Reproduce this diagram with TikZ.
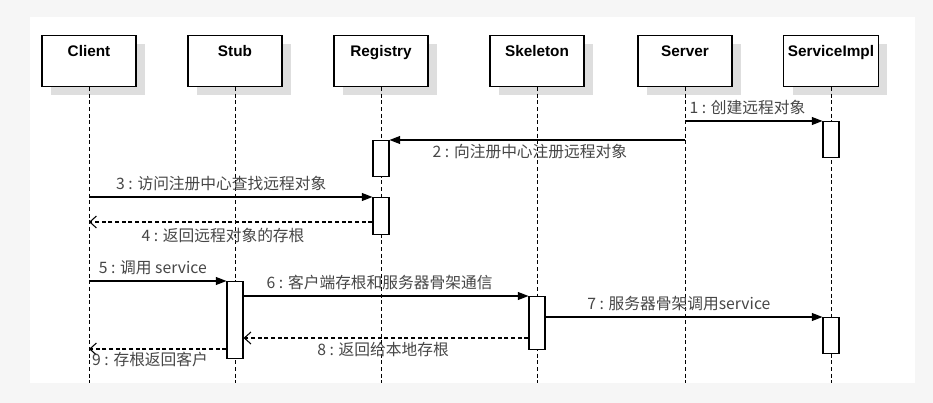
\documentclass[tikz,border=0pt]{standalone}
\usepackage{fontspec}
\setmainfont{Liberation Sans}
\newfontfamily\cjk{Noto Sans CJK SC}
\usetikzlibrary{arrows.meta}
\definecolor{shade}{RGB}{222,222,222}
\definecolor{backdrop}{RGB}{246,246,246}
\definecolor{labelgray}{RGB}{70,70,70}
\tikzset{
  head/.style={draw=black, thick, fill=white, minimum width=70.5pt, minimum height=38.25pt,
               font=\bfseries\fontsize{11.5}{13}\selectfont, anchor=north, align=center, text depth=15pt},
  shadow/.style={fill=shade, minimum width=70.5pt, minimum height=38.25pt, anchor=north},
  life/.style={densely dashed, thin},
  act/.style={draw=black, thick, fill=white, minimum width=12pt, inner sep=0pt, anchor=north},
  call/.style={thick, -{Triangle[length=8pt,width=6pt]}},
  reply/.style={thick, densely dashed, -{Straight Barb[length=5pt,width=9pt]}},
  msg/.style={font=\cjk\fontsize{11.8}{13}\selectfont, text=labelgray, inner sep=1pt}
}
\begin{document}
\begin{tikzpicture}[x=0.75pt, y=-0.75pt]
  \fill[backdrop] (0,0) rectangle (933,403);
  \fill[white] (30,17) rectangle (915,383);
  \useasboundingbox (0,0) rectangle (933,403);
  % lifeline heads
  \foreach \x/\name/\txt in {89/client/Client, 235/stub/Stub, 381/registry/Registry,
                             537/skeleton/Skeleton, 685/server/Server, 831/impl/ServiceImpl} {
    \node[shadow] at (\x+9,44) {};
    \node[head] (\name) at (\x,35) {\txt};
    \coordinate (\name-end) at (\x,383);
    \draw[life] (\name.south) -- (\name-end);
  }
  % activation bars
  \node[act, minimum height=27pt]    (impl1) at (831,121) {};
  \node[act, minimum height=27pt]    (reg1)  at (381,140) {};
  \node[act, minimum height=27.75pt] (reg2)  at (381,197) {};
  \node[act, minimum height=57.75pt] (stub1) at (235,281) {};
  \node[act, minimum height=39.75pt] (skel1) at (537,296) {};
  \node[act, minimum height=27pt]    (impl2) at (831,317) {};
  % points on lifelines
  \coordinate (srv1) at (685,121);
  \coordinate (srv2) at (685,140);
  \coordinate (cli3) at (89,197);
  \coordinate (cli4) at (89,222);
  \coordinate (cli5) at (89,281);
  \coordinate (cli9) at (89,349);
  \coordinate (y8)   at (0,338);
  % messages
  \draw[call] (srv1) -- (impl1.north west)
    node[msg, at start, anchor=south west, xshift=2pt, yshift=3pt] {1 : 创建远程对象};
  \draw[call] (srv2) -- (reg1.north east)
    node[msg, at end, anchor=north west, xshift=31pt, yshift=-2pt] {2 : 向注册中心注册远程对象};
  \draw[call] (cli3) -- (reg2.north west)
    node[msg, at start, anchor=south west, xshift=19pt, yshift=3pt] {3 : 访问注册中心查找远程对象};
  \draw[reply] (reg2.west |- cli4) -- (cli4)
    node[msg, at end, anchor=north west, xshift=38pt, yshift=-3pt] {4 : 返回远程对象的存根};
  \draw[call] (cli5) -- (stub1.north west)
    node[msg, at start, anchor=south west, xshift=6pt, yshift=3pt] {5 : 调用 service};
  \draw[call] (stub1.east |- skel1.north) -- (skel1.north west)
    node[msg, at start, anchor=south west, xshift=16pt, yshift=3pt] {6 : 客户端存根和服务器骨架通信};
  \draw[call] (skel1.east |- impl2.north) -- (impl2.north west)
    node[msg, at start, anchor=south west, xshift=30pt, yshift=3pt] {7 : 服务器骨架调用service};
  \draw[reply] (skel1.west |- y8) -- (stub1.east |- y8)
    node[msg, at end, anchor=north west, xshift=54pt, yshift=-2pt] {8 : 返回给本地存根};
  \draw[reply] (stub1.west |- cli9) -- (cli9)
    node[msg, at end, anchor=north west, xshift=1pt, yshift=-1pt] {9 : 存根返回客户};
\end{tikzpicture}
\end{document}
